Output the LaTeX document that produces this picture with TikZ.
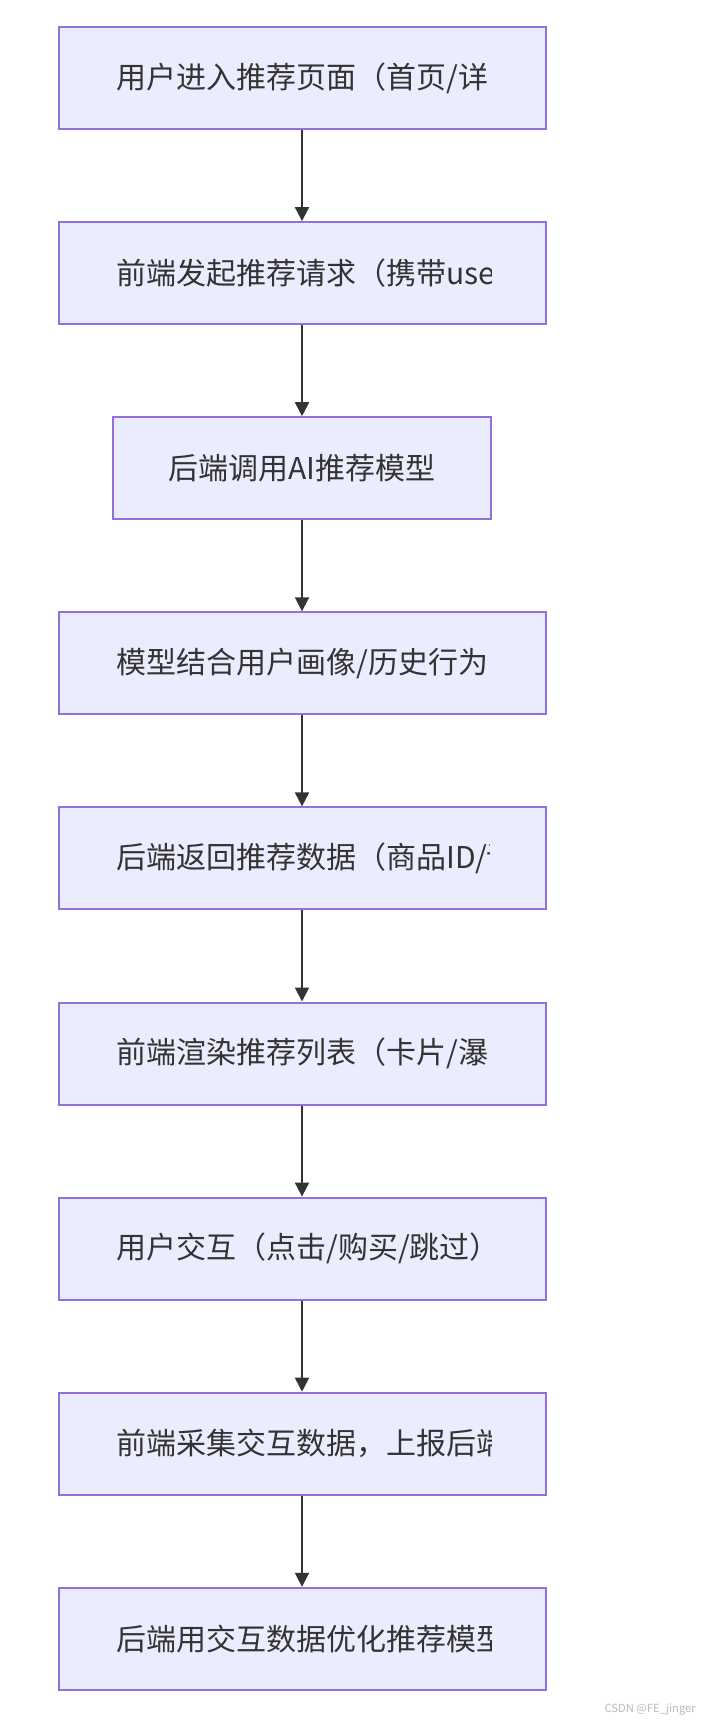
\documentclass[tikz,border=0pt]{standalone}
\usepackage{fontspec}
\newfontfamily\cjk{Noto Sans CJK SC}
\usetikzlibrary{arrows.meta}
\definecolor{boxfill}{HTML}{ECECFF}
\definecolor{boxline}{HTML}{9370DB}
\definecolor{ink}{HTML}{333333}
\definecolor{mark}{HTML}{BBBBBB}
\tikzset{
  stepbox/.style={draw=boxline, fill=boxfill, line width=1.5pt, rectangle,
    minimum width=365.25pt, minimum height=76.5pt, inner sep=0pt},
  narrowbox/.style={stepbox, minimum width=283.5pt},
  label/.style={text=ink, inner sep=0pt, font=\cjk\fontsize{22.5pt}{27pt}\selectfont},
  flow/.style={draw=ink, line width=1.4pt, -{Triangle[length=10.5pt,width=10.5pt]}},
  wmark/.style={text=mark, inner sep=0pt, font=\cjk\fontsize{8.4pt}{10pt}\selectfont}
}
\begin{document}
\begin{tikzpicture}[x=0.75pt, y=-0.75pt]
\useasboundingbox (0,0) rectangle (721,1720);
\fill[white] (0,0) rectangle (721,1720);
% boxes
\node[stepbox] (b1) at (302,78) {};
\node[stepbox] (b2) at (302,273.1) {};
\node[narrowbox] (b3) at (302,468.2) {};
\node[stepbox] (b4) at (302,663.3) {};
\node[stepbox] (b5) at (302,858.4) {};
\node[stepbox] (b6) at (302,1053.5) {};
\node[stepbox] (b7) at (302,1248.6) {};
\node[stepbox] (b8) at (302,1443.7) {};
\node[stepbox] (b9) at (302,1638.8) {};
% texts (clipped as in the reference)
\begin{scope}
\clip (116,27) rectangle (493,129);
\node[label, anchor=west] (t1) at (116,78) {用户进入推荐页面（首页/详};
\end{scope}
\begin{scope}
\clip (116,222) rectangle (491,324);
\node[label, anchor=west] (t2) at (116,273.1) {前端发起推荐请求（携带userId）};
\end{scope}
\node[label] (t3) at (302,468.2) {后端调用AI推荐模型};
\begin{scope}
\clip (116,612) rectangle (493,714);
\node[label, anchor=west] (t4) at (116,663.3) {模型结合用户画像/历史行为};
\end{scope}
\begin{scope}
\clip (116,807) rectangle (489,909);
\node[label, anchor=west] (t5) at (116,858.4) {后端返回推荐数据（商品ID/评分）};
\end{scope}
\begin{scope}
\clip (116,1002) rectangle (493,1104);
\node[label, anchor=west] (t6) at (116,1053.5) {前端渲染推荐列表（卡片/瀑};
\end{scope}
\begin{scope}
\clip (116,1197) rectangle (493,1299);
\node[label, anchor=west] (t7) at (116,1248.6) {用户交互（点击/购买/跳过）};
\end{scope}
\begin{scope}
\clip (116,1392) rectangle (491,1494);
\node[label, anchor=west] (t8) at (116,1443.7) {前端采集交互数据，上报后端};
\end{scope}
\begin{scope}
\clip (116,1587) rectangle (491,1689);
\node[label, anchor=west] (t9) at (116,1638.8) {后端用交互数据优化推荐模型};
\end{scope}
% connectors
\draw[flow] (b1) -- (b2);
\draw[flow] (b2) -- (b3);
\draw[flow] (b3) -- (b4);
\draw[flow] (b4) -- (b5);
\draw[flow] (b5) -- (b6);
\draw[flow] (b6) -- (b7);
\draw[flow] (b7) -- (b8);
\draw[flow] (b8) -- (b9);
% watermark
\node[wmark, anchor=east] (wm) at (696,1710) {CSDN @FE\_jinger};
\end{tikzpicture}
\end{document}
